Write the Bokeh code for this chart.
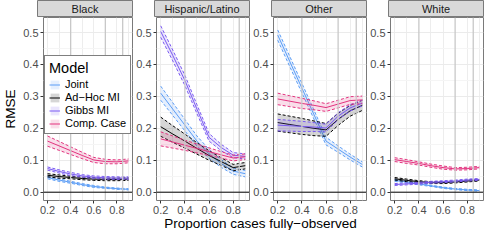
import numpy as np
from bokeh.plotting import figure
from bokeh.layouts import column, row
from bokeh.models import (Range1d, FixedTicker, Span, Legend, LegendItem,
                          PrintfTickFormatter)
from bokeh.embed import file_html
from bokeh.resources import INLINE
from bokeh.core.properties import value

# ---------------- data ----------------
x_prop = [0.2, 0.3, 0.4, 0.5, 0.6, 0.7, 0.8, 0.9]
panels = ["Black", "Hispanic/Latino", "Other", "White"]
models = ["Joint", "Ad\u2212Hoc MI", "Gibbs MI", "Comp. Case"]

black_joint = [0.046, 0.038, 0.031, 0.024, 0.018, 0.014, 0.011, 0.009]
black_joint_ci = [0.004, 0.004, 0.003, 0.003, 0.003, 0.002, 0.002, 0.002]
black_adhoc = [0.053, 0.049, 0.046, 0.043, 0.041, 0.040, 0.040, 0.041]
black_adhoc_ci = [0.005, 0.005, 0.004, 0.004, 0.004, 0.004, 0.004, 0.004]
black_gibbs = [0.074, 0.065, 0.057, 0.051, 0.047, 0.045, 0.044, 0.044]
black_gibbs_ci = [0.005, 0.005, 0.005, 0.004, 0.004, 0.004, 0.004, 0.004]
black_comp = [0.160, 0.145, 0.130, 0.115, 0.101, 0.096, 0.095, 0.098]
black_comp_ci = [0.016, 0.014, 0.012, 0.010, 0.008, 0.007, 0.006, 0.006]

hisp_joint = [0.310, 0.260, 0.210, 0.160, 0.120, 0.090, 0.066, 0.058]
hisp_joint_ci = [0.022, 0.020, 0.018, 0.016, 0.014, 0.012, 0.010, 0.010]
hisp_adhoc = [0.205, 0.182, 0.160, 0.137, 0.115, 0.096, 0.077, 0.083]
hisp_adhoc_ci = [0.030, 0.026, 0.022, 0.018, 0.015, 0.012, 0.010, 0.010]
hisp_gibbs = [0.503, 0.428, 0.350, 0.260, 0.172, 0.140, 0.116, 0.112]
hisp_gibbs_ci = [0.018, 0.017, 0.016, 0.014, 0.012, 0.010, 0.008, 0.008]
hisp_comp = [0.167, 0.157, 0.147, 0.137, 0.127, 0.117, 0.107, 0.111]
hisp_comp_ci = [0.022, 0.019, 0.016, 0.014, 0.012, 0.010, 0.009, 0.009]

other_joint = [0.492, 0.409, 0.326, 0.243, 0.160, 0.135, 0.110, 0.087]
other_joint_ci = [0.016, 0.016, 0.015, 0.014, 0.012, 0.010, 0.009, 0.008]
other_adhoc = [0.218, 0.212, 0.206, 0.200, 0.195, 0.228, 0.255, 0.272]
other_adhoc_ci = [0.027, 0.026, 0.025, 0.023, 0.020, 0.019, 0.017, 0.016]
other_gibbs = [0.210, 0.208, 0.206, 0.204, 0.201, 0.238, 0.264, 0.279]
other_gibbs_ci = [0.018, 0.017, 0.016, 0.014, 0.012, 0.011, 0.010, 0.009]
other_comp = [0.292, 0.285, 0.278, 0.272, 0.265, 0.276, 0.287, 0.289]
other_comp_ci = [0.018, 0.017, 0.016, 0.014, 0.012, 0.012, 0.012, 0.012]

white_joint = [0.037, 0.032, 0.026, 0.020, 0.014, 0.010, 0.007, 0.005]
white_joint_ci = [0.003, 0.003, 0.003, 0.002, 0.002, 0.002, 0.002, 0.002]
white_adhoc = [0.042, 0.037, 0.033, 0.030, 0.030, 0.032, 0.035, 0.038]
white_adhoc_ci = [0.004, 0.004, 0.003, 0.003, 0.003, 0.003, 0.003, 0.003]
white_gibbs = [0.024, 0.026, 0.028, 0.031, 0.033, 0.035, 0.038, 0.040]
white_gibbs_ci = [0.003, 0.003, 0.003, 0.003, 0.003, 0.003, 0.003, 0.003]
white_comp = [0.102, 0.096, 0.090, 0.083, 0.077, 0.073, 0.074, 0.077]
white_comp_ci = [0.006, 0.006, 0.005, 0.005, 0.005, 0.004, 0.004, 0.004]

x_ticks = [0.2, 0.4, 0.6, 0.8]
y_ticks = [0.0, 0.1, 0.2, 0.3, 0.4, 0.5]
y_minor = [0.05, 0.15, 0.25, 0.35, 0.45]
x_light_grid = [0.2, 0.3, 0.5, 0.6, 0.8, 0.9]
x_dark_grid = [0.4, 0.7, 0.85]

series = {
    "Black": [(black_joint, black_joint_ci), (black_adhoc, black_adhoc_ci),
              (black_gibbs, black_gibbs_ci), (black_comp, black_comp_ci)],
    "Hispanic/Latino": [(hisp_joint, hisp_joint_ci), (hisp_adhoc, hisp_adhoc_ci),
                        (hisp_gibbs, hisp_gibbs_ci), (hisp_comp, hisp_comp_ci)],
    "Other": [(other_joint, other_joint_ci), (other_adhoc, other_adhoc_ci),
              (other_gibbs, other_gibbs_ci), (other_comp, other_comp_ci)],
    "White": [(white_joint, white_joint_ci), (white_adhoc, white_adhoc_ci),
              (white_gibbs, white_gibbs_ci), (white_comp, white_comp_ci)],
}

colors = ["#5B9DF6", "#000000", "#7B5BF2", "#E3337F"]
FONT = "Liberation Sans"

FRAME_W = 95
FRAME_H = 183
LEFT_FIRST = 37
LEFT_OTHER = 21
RIGHT = 1
BOTTOM = 16
STRIP_H = 17
TITLE_H = 14


def make_strip(name, left):
    s = figure(width=left + FRAME_W + RIGHT, height=STRIP_H,
               x_range=Range1d(0, 1), y_range=Range1d(0, 1),
               x_axis_location=None, y_axis_location=None,
               min_border_left=left, min_border_right=RIGHT,
               min_border_top=0, min_border_bottom=1,
               output_backend="svg", toolbar_location=None)
    s.grid.visible = False
    s.background_fill_color = "#D9D9D9"
    s.border_fill_color = "white"
    s.outline_line_color = "#7A7A7A"
    s.outline_line_width = 1
    s.text(x=[0.5], y=[0.45], text=[name], text_align="center",
           text_baseline="middle", text_font=value(FONT),
           text_font_size="11px", text_color="#1A1A1A")
    return s


def make_panel(name, left, first):
    p = figure(width=left + FRAME_W + RIGHT, height=FRAME_H + BOTTOM,
               x_range=Range1d(0.165, 0.935), y_range=Range1d(-0.026, 0.547),
               min_border_left=left, min_border_right=RIGHT,
               min_border_top=0, min_border_bottom=BOTTOM,
               output_backend="svg", toolbar_location=None)
    p.background_fill_color = "white"
    p.border_fill_color = "white"
    p.outline_line_color = "#7A7A7A"
    p.outline_line_width = 1

    p.xgrid.ticker = FixedTicker(ticks=x_light_grid)
    p.xgrid.grid_line_color = "#EDEDED"
    p.ygrid.ticker = FixedTicker(ticks=y_ticks, minor_ticks=y_minor)
    p.ygrid.grid_line_color = "#EBEBEB"
    p.ygrid.minor_grid_line_color = "#F5F5F5"
    for xv in x_dark_grid:
        p.add_layout(Span(location=xv, dimension="height",
                          line_color="#C8C8C8", line_width=1.3))
    p.add_layout(Span(location=0, dimension="width",
                      line_color="black", line_width=1))

    for ax in (p.xaxis[0], p.yaxis[0]):
        ax.axis_line_color = None
        ax.major_tick_line_color = "#333333"
        ax.major_tick_out = 3
        ax.major_tick_in = 0
        ax.minor_tick_line_color = None
        ax.major_label_text_font = FONT
        ax.major_label_text_font_size = "11px"
        ax.major_label_text_color = "#4D4D4D"
        ax.major_label_standoff = 2
        ax.formatter = PrintfTickFormatter(format="%.1f")
    p.xaxis.ticker = FixedTicker(ticks=x_ticks)
    p.yaxis.ticker = FixedTicker(ticks=y_ticks)
    if first:
        p.yaxis.axis_label = "RMSE"
        p.yaxis.axis_label_text_font = FONT
        p.yaxis.axis_label_text_font_size = "13.5px"
        p.yaxis.axis_label_text_font_style = "normal"
        p.yaxis.axis_label_text_color = "black"
        p.yaxis.axis_label_standoff = 2

    items = []
    for (mean, ci), col, lab in zip(series[name], colors, models):
        m = np.array(mean)
        c = np.array(ci)
        lo = m - c
        hi = m + c
        r_band = p.varea(x=x_prop, y1=lo, y2=hi, fill_color=col, fill_alpha=0.16)
        r_line = p.line(x_prop, m, line_color=col, line_width=1)
        p.line(x_prop, lo, line_color=col, line_width=1, line_dash="3 2")
        p.line(x_prop, hi, line_color=col, line_width=1, line_dash="3 2")
        items.append(LegendItem(label=lab, renderers=[r_band, r_line]))

    if first:
        leg = Legend(items=items, location=(1, 66), title="Model",
                     title_text_font=FONT, title_text_font_size="14.5px",
                     title_text_font_style="normal", title_text_color="black",
                     title_standoff=2,
                     label_text_font=FONT, label_text_font_size="11px",
                     label_text_color="black",
                     label_height=11, glyph_height=11, glyph_width=11,
                     label_standoff=5, spacing=1, padding=4, margin=0,
                     border_line_color="black", border_line_width=1.2,
                     background_fill_color="white", background_fill_alpha=1)
        p.add_layout(leg)
    return p


strips = []
plots = []
for i, name in enumerate(panels):
    left = LEFT_FIRST if i == 0 else LEFT_OTHER
    strips.append(make_strip(name, left))
    plots.append(make_panel(name, left, i == 0))

total_w = sum(s.width for s in strips)
tfig = figure(width=total_w, height=TITLE_H, x_range=Range1d(0, total_w),
              y_range=Range1d(0, 1), x_axis_location=None, y_axis_location=None,
              min_border=0, output_backend="svg", toolbar_location=None)
tfig.grid.visible = False
tfig.outline_line_color = None
tfig.background_fill_color = "white"
tfig.border_fill_color = "white"
center_x = (LEFT_FIRST + total_w - RIGHT) / 2
tfig.text(x=[center_x], y=[0.5], text=["Proportion cases fully\u2212observed"],
          text_align="center", text_baseline="middle", text_font=value(FONT),
          text_font_size="13.5px", text_color="black")

layout = column(row(*strips), row(*plots), tfig)
open("out.html", "w").write(file_html(layout, INLINE))
